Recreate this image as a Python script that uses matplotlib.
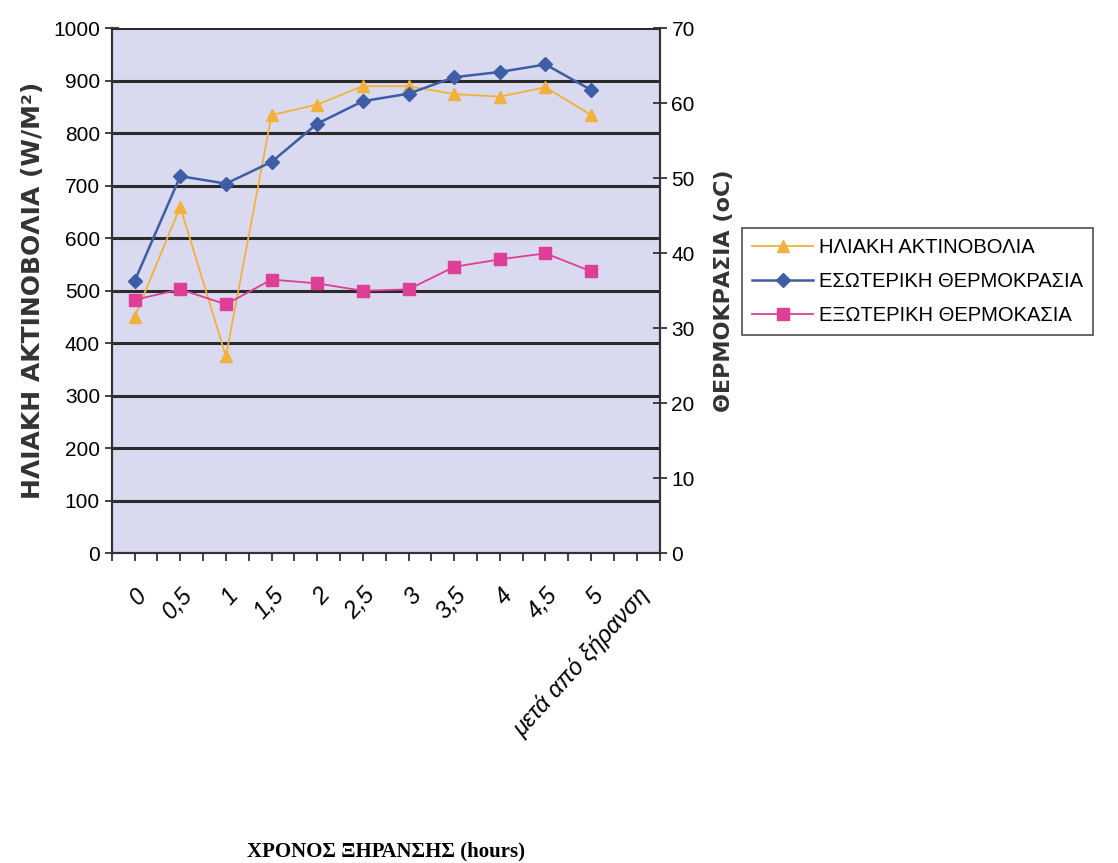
import numpy as np
import matplotlib.pyplot as plt
from matplotlib.ticker import MultipleLocator

# categories (hours of drying)
categories = ["0", "0,5", "1", "1,5", "2", "2,5", "3", "3,5", "4", "4,5", "5",
              "μετά από ξήρανση"]

# solar radiation W/m2 (left axis)
iliaki = [450, 660, 375, 835, 855, 890, 890, 875, 870, 888, 835]
# inner temperature oC (right axis)
esoteriki = [36.3, 50.3, 49.3, 52.2, 57.3, 60.3, 61.3, 63.5, 64.2, 65.2, 61.8]
# outer temperature oC (right axis)
exoteriki = [33.8, 35.2, 33.2, 36.5, 36, 35, 35.2, 38.2, 39.2, 40, 37.6]

lbl_iliaki = "ΗΛΙΑΚΗ ΑΚΤΙΝΟΒΟΛΙΑ"
lbl_eso = "ΕΣΩΤΕΡΙΚΗ ΘΕΡΜΟΚΡΑΣΙΑ"
lbl_exo = "ΕΞΩΤΕΡΙΚΗ ΘΕΡΜΟΚΑΣΙΑ"

c_orange = "#F2B13A"
c_blue = "#3D5DA6"
c_pink = "#DE3E96"

plt.rcParams['font.family'] = ['Liberation Sans', 'DejaVu Sans']

fig = plt.figure(figsize=(11.18, 8.63), dpi=100)
ax = fig.add_axes([0.1, 0.359, 0.49, 0.608])
ax.set_facecolor("#D9D9F0")
ax2 = ax.twinx()

x = np.arange(len(iliaki))

l1, = ax.plot(x, iliaki, color=c_orange, lw=1.3, marker="^", ms=9,
              label=lbl_iliaki, zorder=3)
l2, = ax2.plot(x, esoteriki, color=c_blue, lw=1.8, marker="D", ms=7.5,
               label=lbl_eso, zorder=3)
l3, = ax2.plot(x, exoteriki, color=c_pink, lw=1.3, marker="s", ms=8,
               label=lbl_exo, zorder=3)

ax.set_xlim(-0.5, len(categories) - 0.5)
ax.set_ylim(0, 1000)
ax2.set_ylim(0, 70)

ax.set_yticks(np.arange(0, 1001, 100))
ax2.set_yticks(np.arange(0, 71, 10))
ax.yaxis.grid(True, color="#2a2a2a", lw=2.2)
ax.set_axisbelow(True)

ax.set_xticks(np.arange(len(categories)))
ax.set_xticklabels(categories, rotation=48, ha="right", rotation_mode="anchor",
                   fontsize=17, style="italic")
ax.xaxis.set_minor_locator(MultipleLocator(0.5))
ax.tick_params(axis="x", which="both", direction="out", length=6, width=1.3,
               color="#333333", pad=16)
ax.tick_params(axis="y", direction="inout", length=10, width=1.3,
               color="#333333", labelsize=15)
ax2.tick_params(axis="y", direction="inout", length=10, width=1.3,
                color="#333333", labelsize=15)

for a in (ax, ax2):
    a.spines["top"].set_visible(False)
    for s in ("left", "right", "bottom"):
        a.spines[s].set_color("#333333")
        a.spines[s].set_linewidth(1.5)

ax.set_ylabel("ΗΛΙΑΚΗ ΑΚΤΙΝΟΒΟΛΙΑ (W/M²)", fontsize=18, fontweight="bold",
              family=["DejaVu Sans"], labelpad=6, color="#333333")
ax2.set_ylabel("ΘΕΡΜΟΚΡΑΣΙΑ (oC)", fontsize=16, fontweight="bold",
               family=["DejaVu Sans"], labelpad=14, color="#333333")
ax.set_xlabel("ΧΡΟΝΟΣ ΞΗΡΑΝΣΗΣ (hours)", fontsize=15, fontweight="bold",
              family=["Liberation Serif"], labelpad=72)

leg = fig.legend(handles=[l1, l2, l3], loc="upper left",
                 bbox_to_anchor=(0.655, 0.748), fontsize=14.5, frameon=True,
                 fancybox=False, edgecolor="#333333", handlelength=3.0,
                 borderpad=0.5, labelspacing=0.75, handletextpad=0.3)
leg.get_frame().set_linewidth(1.3)

fig.savefig("out.png", dpi=100, facecolor="white")
